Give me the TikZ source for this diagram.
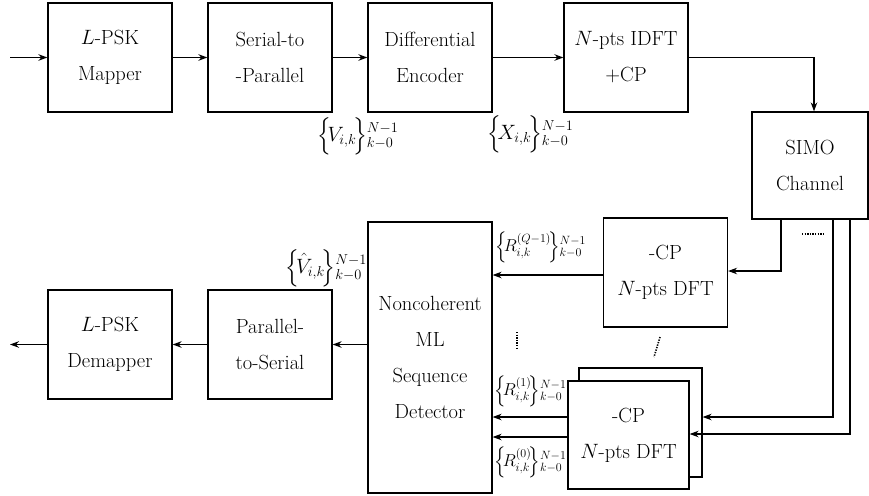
\documentclass[tikz,border=0pt]{standalone}
\usepackage{amsmath}
\usetikzlibrary{arrows.meta,positioning}

\begin{document}
\begin{tikzpicture}[x=1pt,y=-1pt,
  blk/.style={draw,line width=1.2pt,align=center,inner sep=0pt,
    minimum width=124pt,minimum height=109pt,font=\fontsize{20.5}{36}\selectfont},
  lnk/.style={line width=1.6pt,-{Stealth[length=9pt,width=6.5pt,inset=3pt]}},
  sym/.style={inner sep=0pt,font=\fontsize{17.5}{20}\selectfont},
  bigsym/.style={sym,font=\fontsize{20}{22}\selectfont},
  dots/.style={line width=1.6pt,dash pattern=on 1.3pt off 1.3pt}]
  \useasboundingbox (0,0) rectangle (869,495);
  % transmitter
  \node[blk] (map) at (110,57.5) {$L$-PSK\\Mapper};
  \node[blk] (s2p) at (270,57.5) {Serial-to\\-Parallel};
  \node[blk] (denc) at (430,57.5) {Differential\\Encoder};
  \node[blk] (idft) at (626,57.5) {$N$-pts IDFT\\+CP};
  \node[blk,minimum width=116pt,minimum height=107pt] (simo) at (810,165.5) {SIMO\\Channel};
  % receiver
  \node[blk] (dft) at (665.5,272.5) {-CP\\$N$-pts DFT};
  \node[blk,minimum width=123pt] (dftb) at (640.5,422.5) {};
  \node[blk,fill=white,minimum width=121pt,minimum height=108pt] (dftf) at (628.5,435) {-CP\\$N$-pts DFT};
  \node[blk,minimum height=271pt] (det) at (430,357.5) {Noncoherent\\ML\\Sequence\\Detector};
  \node[blk] (p2s) at (270,344.5) {Parallel-\\to-Serial};
  \node[blk] (demap) at (110,344.5) {$L$-PSK\\Demapper};
  \coordinate (in) at (10,57.5);
  \coordinate (out) at (10,344.5);
  % connectors
  \draw[lnk] (in) -- (map);
  \draw[lnk] (map) -- (s2p);
  \draw[lnk] (s2p) -- (denc);
  \draw[lnk] (denc) -- (idft);
  \draw[lnk] (idft.east) -| ([xshift=4pt]simo.north);
  \draw[lnk] ([xshift=-29pt]simo.south) |- ([yshift=1.5pt]dft.east);
  \draw[lnk] ([xshift=23pt]simo.south) |- ([yshift=5.5pt]dftb.east);
  \draw[lnk] ([xshift=40pt]simo.south) |- ([yshift=1pt]dftf.east);
  \draw[lnk] ([yshift=-2.5pt]dft.west) -- ([yshift=-2.5pt]dft.west -| det.east);
  \draw[lnk] ([yshift=18pt]dftf.west) -- ([yshift=18pt]dftf.west -| det.east);
  \draw[lnk] ([yshift=-2pt]dftf.west) -- ([yshift=-2pt]dftf.west -| det.east);
  \draw[lnk] (p2s.east -| det.west) -- (p2s.east);
  \draw[lnk] (p2s) -- (demap);
  \draw[lnk] (demap) -- (out);
  % dots
  \draw[dots] (802,234) -- (825,234);
  \draw[dots] (517,332) -- (517,348);
  \draw[dots] (660,337) -- (654,357);
  % symbols
  \node[bigsym,anchor=west] (vsym) at (317,136) {$\Big\{\!V_{i,k}\!\Big\}{}^{N-1}_{k-0}$};
  \node[bigsym,anchor=west] (xsym) at (487,134) {$\Big\{\!X_{i,k}\!\Big\}{}^{N-1}_{k-0}$};
  \node[bigsym,anchor=east] (vhat) at (367,268) {$\Big\{\!\hat{V}_{i,k}\!\Big\}{}^{N-1}_{k-0}$};
  \node[sym,anchor=west] (rq) at (495,247) {$\Big\{\!R_{i,k}^{(Q-1)}\!\Big\}{}^{N-1}_{k-0}$};
  \node[sym,anchor=west] (r1) at (494,391) {$\Big\{\!R_{i,k}^{(1)}\!\Big\}{}^{N-1}_{k-0}$};
  \node[sym,anchor=west] (r0) at (494,462) {$\Big\{\!R_{i,k}^{(0)}\!\Big\}{}^{N-1}_{k-0}$};
\end{tikzpicture}
\end{document}
